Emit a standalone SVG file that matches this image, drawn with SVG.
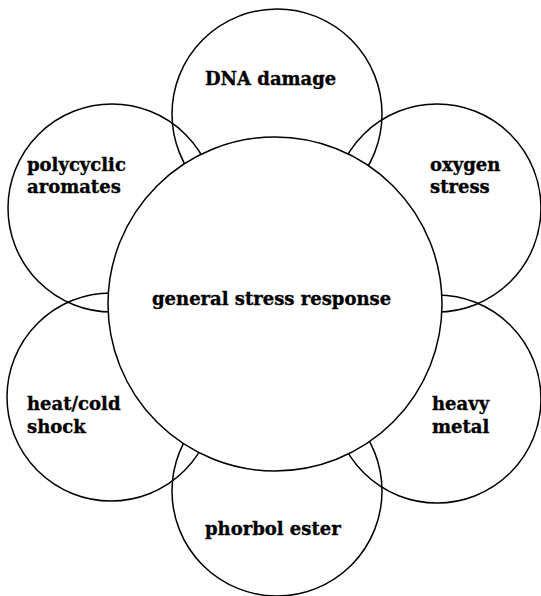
<svg xmlns="http://www.w3.org/2000/svg" width="541" height="596" viewBox="0 0 541 596">
<style>
.c{fill:none;stroke:#000;stroke-width:1.5}
.m{fill:#fff;stroke:#000;stroke-width:1.5}
text{font-family:"DejaVu Serif","Liberation Serif",serif;font-weight:bold;font-size:18px;fill:#000;stroke:#000;stroke-width:0.35}
</style>
<rect width="541" height="596" fill="#fff"/>
<g id="dna"><circle class="c" cx="277" cy="114" r="105"/><text x="205" y="85">DNA damage</text></g>
<g id="polycyclic"><circle class="c" cx="112" cy="208" r="104"/><text x="27" y="171">polycyclic</text><text x="27" y="193">aromates</text></g>
<g id="oxygen"><circle class="c" cx="437" cy="208" r="104"/><text x="430" y="171">oxygen</text><text x="430" y="193">stress</text></g>
<g id="heat"><circle class="c" cx="111" cy="397" r="104"/><text x="27" y="410">heat/cold</text><text x="27" y="433">shock</text></g>
<g id="heavy"><circle class="c" cx="437" cy="399" r="104"/><text x="432" y="410">heavy</text><text x="432" y="433">metal</text></g>
<g id="phorbol"><circle class="c" cx="277" cy="491" r="105"/><text x="205" y="535">phorbol ester</text></g>
<g id="connectors"></g>
<g id="general"><circle class="m" cx="275" cy="304" r="167"/><text x="152" y="305">general stress response</text></g>
</svg>
